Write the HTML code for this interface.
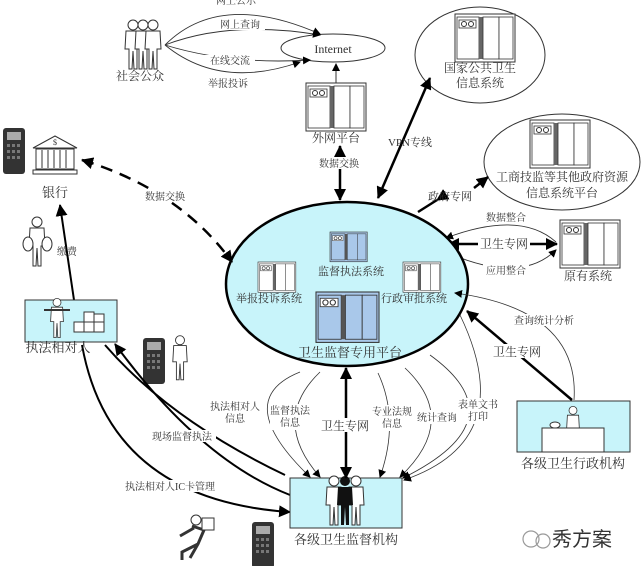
<!DOCTYPE html>
<html><head><meta charset="utf-8">
<style>
html,body{margin:0;padding:0;background:#fff;}
svg{display:block;}
text{font-family:"Liberation Serif","Noto Serif CJK SC","Noto Sans CJK SC",serif;fill:#333;}
</style></head><body>
<svg width="643" height="566" viewBox="0 0 643 566" xmlns="http://www.w3.org/2000/svg">
<defs>
<marker id="a" markerWidth="8" markerHeight="8" refX="7" refY="4" orient="auto" markerUnits="userSpaceOnUse"><path d="M0,0 L8,4 L0,8 z" fill="#000"/></marker>
<marker id="b" markerWidth="12" markerHeight="12" refX="11" refY="6" orient="auto" markerUnits="userSpaceOnUse"><path d="M0,0 L12,6 L0,12 z" fill="#000"/></marker>
<marker id="bs" markerWidth="12" markerHeight="12" refX="1" refY="6" orient="auto" markerUnits="userSpaceOnUse"><path d="M12,0 L0,6 L12,12 z" fill="#000"/></marker>
<g id="srv">
<rect x="0" y="0" width="60" height="48" fill="#fff" stroke="#333"/>
<rect x="2" y="3" width="22" height="42" fill="#fff" stroke="#333" stroke-width="0.8"/>
<rect x="4" y="6" width="17" height="8" fill="#fff" stroke="#333" stroke-width="0.8"/>
<circle cx="9" cy="10" r="2.5" fill="none" stroke="#333"/><circle cx="16" cy="10" r="2.5" fill="none" stroke="#333"/>
<rect x="24" y="3" width="4" height="42" fill="#666"/>
<rect x="28" y="3" width="16" height="42" fill="#fff" stroke="#333" stroke-width="0.8"/>
<rect x="44" y="3" width="14" height="42" fill="#fff" stroke="#333" stroke-width="0.8"/>
</g>
<g id="srvb">
<rect x="0" y="0" width="60" height="48" fill="#a9c8ea" stroke="#333"/>
<rect x="2" y="3" width="22" height="42" fill="#a9c8ea" stroke="#333" stroke-width="0.8"/>
<rect x="4" y="6" width="17" height="8" fill="#fff" stroke="#333" stroke-width="0.8"/>
<circle cx="9" cy="10" r="2.5" fill="none" stroke="#333"/><circle cx="16" cy="10" r="2.5" fill="none" stroke="#333"/>
<rect x="24" y="3" width="4" height="42" fill="#555"/>
<rect x="28" y="3" width="16" height="42" fill="#a9c8ea" stroke="#333" stroke-width="0.8"/>
<rect x="44" y="3" width="14" height="42" fill="#a9c8ea" stroke="#333" stroke-width="0.8"/>
</g>
<g id="pos">
<rect x="0" y="0" width="22" height="46" rx="3" fill="#333"/>
<rect x="4" y="4" width="14" height="8" fill="#aaa"/>
<g fill="#777"><rect x="4" y="16" width="3" height="3"/><rect x="9" y="16" width="3" height="3"/><rect x="14" y="16" width="3" height="3"/><rect x="4" y="22" width="3" height="3"/><rect x="9" y="22" width="3" height="3"/><rect x="14" y="22" width="3" height="3"/><rect x="4" y="28" width="3" height="3"/><rect x="9" y="28" width="3" height="3"/><rect x="14" y="28" width="3" height="3"/></g>
</g>
<g id="man">
<circle cx="0" cy="-22" r="5" fill="#fff" stroke="#333"/>
<path d="M-7,-16 L7,-16 L8,2 L4,2 L4,22 L1,22 L0,4 L-1,22 L-4,22 L-4,2 L-8,2 Z" fill="#fff" stroke="#333"/>
</g>
</defs>

<!-- Internet -->
<ellipse cx="333" cy="48" rx="52" ry="14" fill="#fff" stroke="#333"/>
<text x="333" y="53" font-size="12" text-anchor="middle">Internet</text>
<!-- public -->
<use href="#man" x="133" y="47"/><use href="#man" x="143" y="47"/><use href="#man" x="153" y="47"/>
<text x="140" y="80" font-size="12" text-anchor="middle">社会公众</text>
<g fill="none" stroke="#333" stroke-width="0.9" marker-end="url(#a)">
<path d="M165,45 Q220,-10 320,34"/>
<path d="M165,45 Q230,20 320,35"/>
<path d="M165,45 Q230,65 310,60"/>
<path d="M165,45 Q220,90 300,62"/>
</g>
<g font-size="10" text-anchor="middle">
<rect x="210" y="-4" width="50" height="10" fill="#fff"/><text x="236" y="4">网上公示</text>
<rect x="215" y="19" width="50" height="11" fill="#fff"/><text x="240" y="28">网上查询</text>
<rect x="205" y="55" width="50" height="11" fill="#fff"/><text x="230" y="64">在线交流</text>
<rect x="203" y="78" width="50" height="11" fill="#fff"/><text x="228" y="87">举报投诉</text>
</g>
<!-- 外网平台 -->
<use href="#srv" x="306" y="83"/>
<line x1="336" y1="83" x2="336" y2="64" stroke="#333" marker-end="url(#a)"/>
<text x="336" y="142" font-size="12" text-anchor="middle">外网平台</text>
<line x1="340" y1="146" x2="340" y2="200" stroke="#000" stroke-width="2.5" marker-end="url(#b)" marker-start="url(#bs)"/>
<rect x="316" y="157" width="46" height="12" fill="#fff"/>
<text x="339" y="167" font-size="10" text-anchor="middle">数据交换</text>

<!-- 国家公共卫生 -->
<ellipse cx="480" cy="55" rx="65" ry="48" fill="#fff" stroke="#333"/>
<use href="#srv" x="455" y="14"/>
<text x="480" y="72" font-size="12" text-anchor="middle">国家公共卫生</text>
<text x="480" y="87" font-size="12" text-anchor="middle">信息系统</text>
<line x1="378" y1="198" x2="430" y2="78" stroke="#000" stroke-width="2.5" marker-end="url(#b)" marker-start="url(#bs)"/>
<text x="410" y="146" font-size="11" text-anchor="middle">VPN专线</text>

<!-- 工商 -->
<ellipse cx="562" cy="162" rx="78" ry="48" fill="#fff" stroke="#333"/>
<use href="#srv" x="530" y="120"/>
<text x="562" y="181" font-size="12" text-anchor="middle">工商技监等其他政府资源</text>
<text x="562" y="197" font-size="12" text-anchor="middle">信息系统平台</text>
<line x1="418" y1="212" x2="437" y2="200" stroke="#000" stroke-width="2.5" marker-end="url(#bs)"/>
<line x1="474" y1="188" x2="488" y2="177" stroke="#000" stroke-width="2.5" marker-end="url(#b)"/>
<text x="450" y="200" font-size="11" text-anchor="middle">政府专网</text>

<!-- 原有系统 -->
<use href="#srv" x="560" y="220"/>
<text x="588" y="280" font-size="12" text-anchor="middle">原有系统</text>
<g fill="none" stroke="#333" stroke-width="0.9">
<path d="M556,242 Q520,210 446,238" marker-end="url(#a)"/>
<path d="M446,252 Q520,285 556,250" marker-end="url(#a)"/>
</g>
<rect x="483" y="211" width="46" height="12" fill="#fff"/><text x="506" y="221" font-size="10" text-anchor="middle">数据整合</text>
<rect x="483" y="264" width="46" height="12" fill="#fff"/><text x="506" y="274" font-size="10" text-anchor="middle">应用整合</text>
<line x1="448" y1="244" x2="478" y2="244" stroke="#000" stroke-width="2.5" marker-start="url(#bs)"/>
<line x1="530" y1="244" x2="557" y2="244" stroke="#000" stroke-width="2.5" marker-end="url(#b)"/>
<text x="504" y="248" font-size="12" text-anchor="middle">卫生专网</text>

<!-- central ellipse -->
<ellipse cx="347" cy="284" rx="121" ry="82" fill="#c8f4fa" stroke="#000" stroke-width="2.5"/>
<use href="#srvb" x="330" y="232" transform="translate(330,232) scale(0.62) translate(-330,-232)"/>
<text x="351" y="275" font-size="11" text-anchor="middle">监督执法系统</text>
<use href="#srv" x="0" y="0" transform="translate(258,262) scale(0.63)"/>
<text x="269" y="302" font-size="11" text-anchor="middle">举报投诉系统</text>
<use href="#srv" x="0" y="0" transform="translate(403,262) scale(0.63)"/>
<text x="414" y="302" font-size="11" text-anchor="middle">行政审批系统</text>
<use href="#srvb" x="0" y="0" transform="translate(316,292) scale(1.05,1.05)"/>
<text x="350" y="357" font-size="13" text-anchor="middle">卫生监督专用平台</text>

<!-- bank -->
<use href="#pos" x="3" y="128"/>
<g fill="#fff" stroke="#333">
<path d="M33,148 L55,136 L77,148 Z"/>
<rect x="36" y="149" width="38" height="20"/>
<rect x="33" y="170" width="44" height="4"/>
</g>
<g stroke="#333"><line x1="42" y1="150" x2="42" y2="168"/><line x1="48" y1="150" x2="48" y2="168"/><line x1="54" y1="150" x2="54" y2="168"/><line x1="60" y1="150" x2="60" y2="168"/><line x1="66" y1="150" x2="66" y2="168"/></g>
<text x="55" y="145" font-size="8" text-anchor="middle">$</text>
<text x="55" y="197" font-size="13" text-anchor="middle">银行</text>
<path d="M82,160 Q180,190 232,262" fill="none" stroke="#000" stroke-width="2.5" stroke-dasharray="12,8" marker-start="url(#bs)" marker-end="url(#b)"/>
<rect x="140" y="190" width="48" height="12" fill="#fff"/><text x="165" y="200" font-size="10" text-anchor="middle">数据交换</text>
<!-- fee -->
<use href="#man" x="37" y="244"/>
<ellipse cx="28" cy="244" rx="5" ry="7" fill="#fff" stroke="#333"/><ellipse cx="47" cy="244" rx="5" ry="7" fill="#fff" stroke="#333"/>
<text x="67" y="255" font-size="10" text-anchor="middle">缴费</text>
<line x1="74" y1="300" x2="60" y2="205" stroke="#000" stroke-width="2" marker-end="url(#b)"/>

<!-- 执法相对人 -->
<rect x="25" y="300" width="92" height="42" fill="#c8f4fa" stroke="#333"/>
<use href="#man" x="57" y="320" transform="translate(57,320) scale(0.8) translate(-57,-320)"/>
<line x1="44" y1="310" x2="70" y2="310" stroke="#333" stroke-width="2"/>
<g fill="#fff" stroke="#333"><rect x="74" y="322" width="10" height="10"/><rect x="84" y="322" width="10" height="10"/><rect x="94" y="322" width="10" height="10"/><rect x="84" y="312" width="10" height="10"/><rect x="94" y="314" width="10" height="8"/></g>
<text x="58" y="352" font-size="13" text-anchor="middle">执法相对人</text>
<use href="#pos" x="143" y="338"/>
<use href="#man" x="180" y="360" transform="translate(180,360) scale(0.9) translate(-180,-360)"/>

<!-- lines from 执法相对人 to 监督机构 -->
<g fill="none" stroke="#000" stroke-width="2">
<path d="M290,495 Q200,460 115,344" marker-end="url(#b)"/>
<path d="M285,475 Q170,420 105,345" />
<path d="M290,512 Q110,500 82,345" marker-start="url(#bs)"/>
</g>
<rect x="146" y="430" width="70" height="12" fill="#fff"/><text x="182" y="440" font-size="10" text-anchor="middle">现场监督执法</text>
<rect x="120" y="480" width="100" height="12" fill="#fff"/><text x="170" y="490" font-size="10" text-anchor="middle">执法相对人IC卡管理</text>
<g transform="translate(188,530)"><circle cx="8" cy="-10" r="5" fill="#fff" stroke="#333"/><path d="M4,-4 L16,0 L10,14 L2,28 M10,14 L-6,22 L-6,30 M6,-2 L-8,6" fill="none" stroke="#333" stroke-width="3"/><rect x="14" y="-12" width="12" height="12" fill="#fff" stroke="#333"/></g>
<use href="#pos" x="252" y="522"/>

<!-- 各级卫生监督机构 -->
<rect x="290" y="478" width="112" height="50" fill="#c8f4fa" stroke="#333"/>
<use href="#man" x="334" y="503"/><use href="#man" x="356" y="503"/>
<g transform="translate(345,503)"><circle cx="0" cy="-22" r="5" fill="#111"/><path d="M-7,-16 L7,-16 L8,2 L4,2 L4,22 L1,22 L0,4 L-1,22 L-4,22 L-4,2 L-8,2 Z" fill="#111"/></g>
<text x="346" y="544" font-size="13" text-anchor="middle">各级卫生监督机构</text>
<line x1="346" y1="478" x2="346" y2="368" stroke="#000" stroke-width="2.5" marker-end="url(#b)" marker-start="url(#bs)"/>
<rect x="318" y="418" width="54" height="14" fill="#fff"/><text x="345" y="430" font-size="12" text-anchor="middle">卫生专网</text>

<g fill="none" stroke="#333" stroke-width="0.8" marker-end="url(#a)">
<path d="M300,372 Q230,400 310,477"/>
<path d="M320,372 Q270,420 320,477"/>
<path d="M378,373 Q400,420 380,477"/>
<path d="M405,368 Q460,420 400,477"/>
<path d="M430,355 Q520,420 403,478"/>
<path d="M460,315 Q520,440 404,480"/>
</g>
<g font-size="10" text-anchor="middle">
<rect x="208" y="400" width="52" height="26" fill="#fff"/><text x="235" y="410">执法相对人</text><text x="235" y="422">信息</text>
<rect x="270" y="404" width="40" height="26" fill="#fff"/><text x="290" y="414">监督执法</text><text x="290" y="426">信息</text>
<rect x="370" y="405" width="44" height="26" fill="#fff"/><text x="392" y="415">专业法规</text><text x="392" y="427">信息</text>
<rect x="415" y="410" width="46" height="14" fill="#fff"/><text x="437" y="421">统计查询</text>
<rect x="456" y="398" width="46" height="26" fill="#fff"/><text x="478" y="408">表单文书</text><text x="478" y="420">打印</text>
</g>

<!-- 各级卫生行政机构 -->
<rect x="517" y="401" width="113" height="51" fill="#c8f4fa" stroke="#333"/>
<use href="#man" x="573" y="428" transform="translate(573,428) scale(0.8) translate(-573,-428)"/>
<rect x="542" y="428" width="62" height="24" fill="#fff" stroke="#333"/>
<ellipse cx="555" cy="425" rx="5" ry="3" fill="#fff" stroke="#333"/>
<text x="573" y="468" font-size="13" text-anchor="middle">各级卫生行政机构</text>
<line x1="572" y1="400" x2="467" y2="311" stroke="#000" stroke-width="2.5" marker-end="url(#b)"/>
<rect x="492" y="344" width="50" height="14" fill="#fff"/><text x="517" y="356" font-size="12" text-anchor="middle">卫生专网</text>
<path d="M574,400 Q580,310 455,293" fill="none" stroke="#333" stroke-width="0.8" marker-end="url(#a)"/>
<rect x="512" y="314" width="64" height="12" fill="#fff"/><text x="544" y="324" font-size="10" text-anchor="middle">查询统计分析</text>

<!-- watermark -->
<g stroke="#999" fill="none" stroke-width="1.2"><circle cx="531" cy="539" r="8"/><circle cx="543" cy="541" r="7"/></g>
<text x="582" y="546" font-size="20" text-anchor="middle" style="font-family:'Noto Sans CJK SC',sans-serif" fill="#333">秀方案</text>
</svg>
</body></html>
